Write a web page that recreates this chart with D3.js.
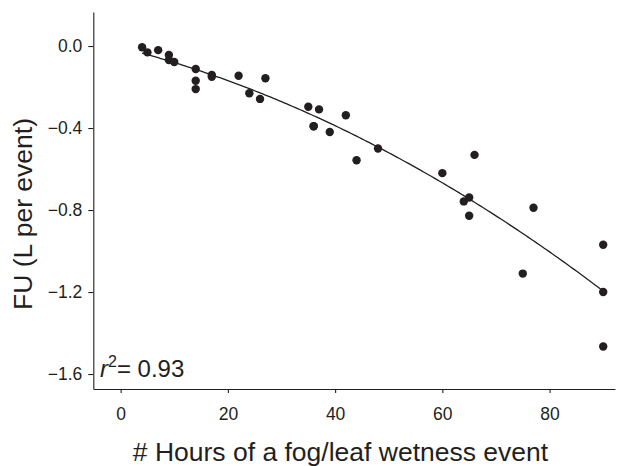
<!DOCTYPE html>
<html>
<head>
<meta charset="utf-8">
<script src="https://cdn.jsdelivr.net/npm/d3@7"></script>
<style>
  body { margin: 0; background: #fff; }
  svg { display: block; font-family: "Liberation Sans", Arial, sans-serif; }
  .axis path, .axis line { stroke: #231f20; stroke-width: 1.1; }
  .axis text { fill: #231f20; font-size: 17.5px; }
</style>
</head>
<body>
<div id="chart"></div>
<script>
// hours of each fog / leaf wetness event
var hours = [4, 5, 7, 9, 9, 10, 14, 14, 14, 17, 17, 22, 24, 26, 27,
             35, 36, 37, 36, 39, 42, 44, 48,
             60, 66, 64, 65, 65, 75, 77, 90, 90, 90];
// foliar uptake (L per event)
var fu = [-0.006, -0.031, -0.02, -0.044, -0.068, -0.078, -0.112, -0.169, -0.21, -0.141, -0.15, -0.145, -0.23, -0.258, -0.157,
          -0.296, -0.391, -0.309, -0.391, -0.419, -0.338, -0.557, -0.50,
          -0.62, -0.531, -0.758, -0.739, -0.828, -1.11, -0.789, -0.969, -1.20, -1.466];
var xTicks = [0, 20, 40, 60, 80];
var yTicks = [0, -0.4, -0.8, -1.2, -1.6];
var r2Label = "0.93";

var width = 620, height = 466;
var svg = d3.select("#chart").append("svg")
  .attr("width", width)
  .attr("height", height);

var x = d3.scaleLinear().domain([-5.1, 92.2]).range([93.3, 615]);
var y = d3.scaleLinear().domain([0.166, -1.673]).range([12, 389]);

// quadratic least squares for the fitted curve
function quadFit(xs, ys) {
  var n = xs.length, s = [0, 0, 0, 0, 0], t = [0, 0, 0];
  for (var i = 0; i < n; i++) {
    var p = 1;
    for (var k = 0; k < 5; k++) { s[k] += p; if (k < 3) t[k] += p * ys[i]; p *= xs[i]; }
  }
  var m = [[s[0], s[1], s[2], t[0]], [s[1], s[2], s[3], t[1]], [s[2], s[3], s[4], t[2]]];
  for (var c = 0; c < 3; c++) {
    for (var r = c + 1; r < 3; r++) {
      var f = m[r][c] / m[c][c];
      for (var j = c; j < 4; j++) m[r][j] -= f * m[c][j];
    }
  }
  var b = [0, 0, 0];
  for (var r = 2; r >= 0; r--) {
    var v = m[r][3];
    for (var j = r + 1; j < 3; j++) v -= m[r][j] * b[j];
    b[r] = v / m[r][r];
  }
  return b;
}
var coef = quadFit(hours, fu);
var fitX = d3.range(d3.min(hours), d3.max(hours) + 0.01, 0.5);

svg.append("path")
  .datum(fitX)
  .attr("fill", "none")
  .attr("stroke", "#231f20")
  .attr("stroke-width", 1.3)
  .attr("d", d3.line()
    .x(function (d) { return x(d); })
    .y(function (d) { return y(coef[0] + coef[1] * d + coef[2] * d * d); }));

svg.selectAll("circle")
  .data(hours).enter().append("circle")
  .attr("cx", function (d) { return x(d); })
  .attr("cy", function (d, i) { return y(fu[i]); })
  .attr("r", 4.2)
  .attr("fill", "#231f20");

var fmtY = function (d) { return d === 0 ? "0.0" : d3.format(".1f")(d).replace("-", "\u2013"); };

svg.append("g")
  .attr("class", "axis")
  .attr("transform", "translate(93.3,0)")
  .call(d3.axisLeft(y).tickValues(yTicks).tickFormat(fmtY).tickSize(5).tickPadding(6).tickSizeOuter(0));

svg.append("g")
  .attr("class", "axis")
  .attr("transform", "translate(0,389)")
  .call(d3.axisBottom(x).tickValues(xTicks).tickFormat(d3.format("d")).tickSize(4).tickPadding(15).tickSizeOuter(0));

svg.append("text")
  .attr("transform", "translate(32,214) rotate(-90)")
  .attr("text-anchor", "middle")
  .attr("fill", "#231f20")
  .style("font-size", "26.5px")
  .text("FU (L per event)");

svg.append("text")
  .attr("x", 340.5)
  .attr("y", 461)
  .attr("text-anchor", "middle")
  .attr("fill", "#231f20")
  .style("font-size", "26.5px")
  .text("# Hours of a fog/leaf wetness event");

var r2 = svg.append("text")
  .attr("x", 100)
  .attr("y", 377)
  .attr("fill", "#231f20")
  .style("font-size", "24px");
r2.append("tspan").style("font-style", "italic").text("r");
r2.append("tspan").attr("dy", -10).style("font-size", "16px").text("2");
r2.append("tspan").attr("dy", 10).text("= " + r2Label);
</script>
</body>
</html>
